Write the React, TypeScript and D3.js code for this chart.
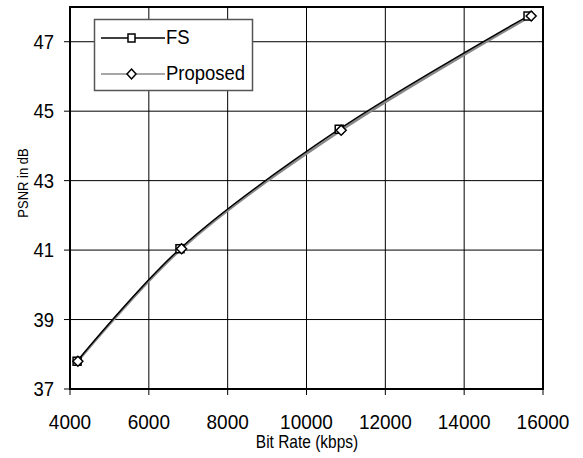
import React from "react";
import * as d3 from "d3";

const fsRate = [4180, 6790, 10830, 15620];
const fsPsnr = [37.8, 41.04, 44.48, 47.74];
const propRate = [4200, 6830, 10880, 15700];
const propPsnr = [37.8, 41.04, 44.45, 47.74];
const xTicks = [4000, 6000, 8000, 10000, 12000, 14000, 16000];
const yTicks = [37, 39, 41, 43, 45, 47];

const W = 583, H = 458;
const L = 70, R = 543, T = 7, B = 389;

function T2({ x, y, size, sy, anchor, rot, children }: any) {
  const tr = `translate(${x},${y})${rot ? ` rotate(${rot})` : ""} scale(1,${sy})`;
  return (
    <text transform={tr} fontSize={size} textAnchor={anchor || "start"}>{children}</text>
  );
}

export default function App() {
  const x = d3.scaleLinear().domain([4000, 16000]).range([L, R]);
  const y = d3.scaleLinear().domain([37, 48]).range([B, T]);
  const line = d3.line<[number, number]>()
    .x((d) => x(d[0]))
    .y((d) => y(d[1]))
    .curve(d3.curveCatmullRom.alpha(0.5));
  const fsPts: [number, number][] = fsRate.map((r, i) => [r, fsPsnr[i]]);
  const prPts: [number, number][] = propRate.map((r, i) => [r, propPsnr[i]]);
  const font = "Arial, 'Liberation Sans', sans-serif";
  return (
    <svg width={W} height={H} style={{ position: "absolute", left: 0, top: 0 }} fontFamily={font}>
      <rect x={0} y={0} width={W} height={H} fill="#fff" />
      {xTicks.map((t) => (
        <line key={"gx" + t} x1={x(t)} x2={x(t)} y1={T} y2={B + 6} stroke="#000" strokeWidth={1} />
      ))}
      {yTicks.map((t) => (
        <line key={"gy" + t} x1={L - 6} x2={R} y1={y(t)} y2={y(t)} stroke="#000" strokeWidth={1} />
      ))}
      <rect x={L} y={T} width={R - L} height={B - T} fill="none" stroke="#000" strokeWidth={2} />
      {xTicks.map((t) => (
        <T2 key={"tx" + t} x={x(t)} y={429} size={19} sy={1.1} anchor="middle">{t}</T2>
      ))}
      {yTicks.map((t) => (
        <T2 key={"ty" + t} x={54} y={y(t) + 7} size={18.5} sy={1.1} anchor="end">{t}</T2>
      ))}
      <T2 x={307} y={448} size={15.5} sy={1.15} anchor="middle">Bit Rate (kbps)</T2>
      <T2 x={28} y={183} size={13} sy={1.15} anchor="middle" rot={-90}>PSNR in dB</T2>
      <path d={line(prPts) || ""} fill="none" stroke="#888" strokeWidth={2.5} />
      <path d={line(fsPts) || ""} fill="none" stroke="#000" strokeWidth={1.5} />
      {fsPts.map((p, i) => (
        <rect key={"s" + i} x={x(p[0]) - 4} y={y(p[1]) - 4} width={8} height={8} fill="#fff" stroke="#000" strokeWidth={1.5} />
      ))}
      {prPts.map((p, i) => {
        const cx = x(p[0]), cy = y(p[1]);
        return (
          <path key={"d" + i} d={`M${cx},${cy - 5}L${cx + 5},${cy}L${cx},${cy + 5}L${cx - 5},${cy}Z`} fill="#fff" stroke="#000" strokeWidth={1.5} />
        );
      })}
      <rect x={94.5} y={19.5} width={158} height={71} fill="#fff" stroke="#555" strokeWidth={1.5} />
      <line x1={101} x2={165} y1={38} y2={38} stroke="#000" strokeWidth={1.5} />
      <rect x={128} y={34} width={7} height={8} fill="#fff" stroke="#000" strokeWidth={1.5} />
      <T2 x={166} y={44} size={18.5} sy={1.1}>FS</T2>
      <line x1={101} x2={165} y1={74} y2={74} stroke="#888" strokeWidth={1.5} />
      <path d="M131.5,69L136,74L131.5,79L127,74Z" fill="#fff" stroke="#000" strokeWidth={1.5} />
      <T2 x={166} y={80} size={18.5} sy={1.1}>Proposed</T2>
    </svg>
  );
}
